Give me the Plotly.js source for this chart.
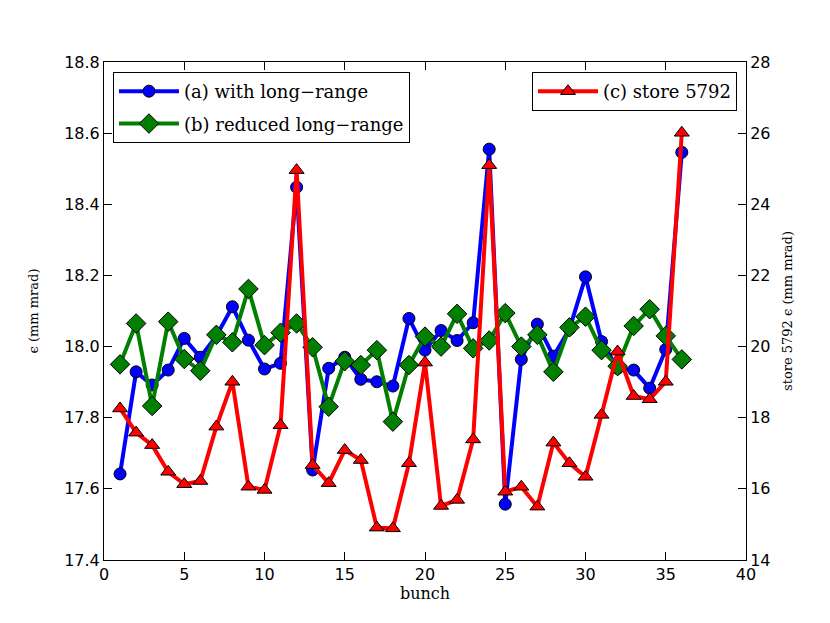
<!DOCTYPE html>
<html>
<head>
<meta charset="utf-8">
<script src="https://cdn.plot.ly/plotly-3.0.1.min.js"></script>
<style>html,body{margin:0;padding:0;background:#fff;}#chart{width:830px;height:623px;}</style>
</head>
<body>
<div id="chart"></div>
<script>
const bunch = [1,2,3,4,5,6,7,8,9,10,11,12,13,14,15,16,17,18,19,20,21,22,23,24,25,26,27,28,29,30,31,32,33,34,35,36];
const withLongRange = [17.642,17.929,17.892,17.934,18.023,17.970,18.030,18.112,18.018,17.937,17.953,18.448,17.653,17.939,17.970,17.908,17.901,17.889,18.079,17.990,18.045,18.017,18.067,18.555,17.557,17.964,18.063,17.973,18.049,18.196,18.014,17.939,17.934,17.883,17.992,18.546];
const reducedLongRange = [17.950,18.065,17.833,18.070,17.965,17.932,18.033,18.012,18.162,18.004,18.039,18.065,17.998,17.831,17.959,17.948,17.990,17.789,17.948,18.028,18.000,18.092,17.995,18.017,18.094,18.000,18.033,17.929,18.054,18.084,17.990,17.945,18.058,18.105,18.030,17.964];
const store5792 = [18.26,17.58,17.23,16.48,16.13,16.22,17.75,19.01,16.06,15.97,17.79,24.96,16.67,16.16,17.09,16.81,14.91,14.89,16.72,19.55,15.52,15.69,17.39,25.10,15.92,16.06,15.50,17.30,16.72,16.34,18.08,19.86,18.61,18.52,19.01,26.01];

const serif = "DejaVu Serif, Liberation Serif, serif";
const sans = "DejaVu Sans, sans-serif";

const traces = [
  {x: bunch, y: withLongRange, name: "(a) with long\u2212range", type: "scatter", mode: "lines+markers",
   line: {color: "#0000ff", width: 4}, marker: {symbol: "circle", size: 12, color: "#0000ff", line: {color: "#000", width: 1}},
   legend: "legend", legendgroup: "a"},
  {x: bunch, y: reducedLongRange, name: "(b) reduced long\u2212range", type: "scatter", mode: "lines+markers",
   line: {color: "#007f00", width: 4}, marker: {symbol: "diamond", size: 15, color: "#007f00", line: {color: "#000", width: 1}},
   legend: "legend", legendgroup: "b"},
  {x: bunch, y: store5792, name: "(c) store 5792", type: "scatter", mode: "lines+markers", yaxis: "y2",
   line: {color: "#ff0000", width: 4}, marker: {symbol: "triangle-up", size: 13, color: "#ff0000", line: {color: "#000", width: 1}},
   legend: "legend2"}
];

const layout = {
  width: 830, height: 623,
  margin: {l: 104, r: 84, t: 62, b: 63},
  paper_bgcolor: "#fff", plot_bgcolor: "#fff",
  showlegend: true,
  xaxis: {range: [0, 40], dtick: 5, tick0: 0, ticks: "inside", ticklen: 8, tickcolor: "#000",
    showline: true, linecolor: "#000", linewidth: 1, mirror: "ticks", showgrid: false, zeroline: false,
    tickfont: {family: sans, size: 16, color: "#000"},
    title: {text: "bunch", font: {family: serif, size: 16, color: "#000"}, standoff: 2}},
  yaxis: {range: [17.4, 18.8], dtick: 0.2, tick0: 17.4, tickformat: ".1f", ticks: "inside", ticklen: 8, tickcolor: "#000",
    showline: true, linecolor: "#000", linewidth: 1, showgrid: false, zeroline: false,
    tickfont: {family: sans, size: 16, color: "#000"},
    title: {text: "\u03f5 (mm mrad)", font: {family: serif, size: 13, color: "#000"}, standoff: 22}},
  yaxis2: {range: [14, 28], dtick: 2, tick0: 14, overlaying: "y", side: "right", ticks: "inside", ticklen: 8, tickcolor: "#000",
    showline: true, linecolor: "#000", linewidth: 1, showgrid: false, zeroline: false,
    tickfont: {family: sans, size: 16, color: "#000"},
    title: {text: "store 5792 \u03f5 (mm mrad)", font: {family: serif, size: 13, color: "#000"}, standoff: 13}},
  legend: {x: 0.014, y: 0.98, xanchor: "left", yanchor: "top", bgcolor: "#fff", bordercolor: "#000", borderwidth: 1,
    font: {family: serif, size: 18, color: "#000"}, itemwidth: 60, tracegroupgap: 6},
  legend2: {x: 0.986, y: 0.98, xanchor: "right", yanchor: "top", bgcolor: "#fff", bordercolor: "#000", borderwidth: 1,
    font: {family: serif, size: 18, color: "#000"}, itemwidth: 60}
};

Plotly.newPlot("chart", traces, layout, {displayModeBar: false, staticPlot: true});
</script>
</body>
</html>
